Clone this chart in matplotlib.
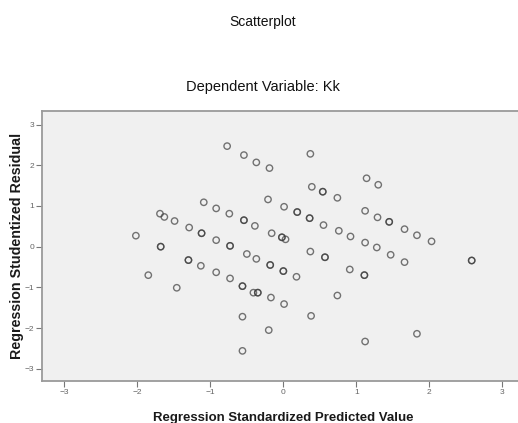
import matplotlib.pyplot as plt
import numpy as np

plt.rcParams['font.family'] = ['Liberation Sans', 'DejaVu Sans']

# standardized predicted value (x) and studentized residual (y)
# dark circles in the reference are overlapping cases, so those are listed twice
pred = [-0.77, -0.54, -0.37, -0.19, 0.37, 1.14, 1.30,
        -1.09, -0.92, -0.74, -0.54, -0.54, -0.39,
        -0.21, 0.01, 0.19, 0.19, 0.36, 0.36, 0.55, 0.76, 0.92, 1.12, 1.28,
        0.39, 0.54, 0.54, 0.74,
        1.12, 1.29, 1.45, 1.45, 1.66, 1.83, 2.03,
        -2.02, -1.69, -1.63, -1.49, -1.29, -1.12, -1.12, -0.92, -0.73, -0.73,
        -0.16, -0.02, -0.02, 0.03,
        -1.68, -1.68,
        0.37, 0.57, 0.57, 0.91, 1.11, 1.11,
        -0.18, -0.18, 0.00, 0.00, 0.18,
        2.58, 2.58, 1.66, 1.47,
        -1.30, -1.30, -1.13, -0.92, -0.73,
        -1.85,
        -0.50, -0.37,
        -1.46,
        -0.56, -0.56, -0.41, -0.35, -0.35, -0.17, 0.01,
        -0.56, -0.20, -0.56,
        0.74, 0.38, 1.12, 1.83]
resid = [2.47, 2.25, 2.07, 1.93, 2.28, 1.68, 1.52,
         1.09, 0.94, 0.81, 0.65, 0.65, 0.51,
         1.16, 0.98, 0.85, 0.85, 0.70, 0.70, 0.53, 0.39, 0.25, 0.10, -0.02,
         1.47, 1.35, 1.35, 1.20,
         0.88, 0.72, 0.61, 0.61, 0.43, 0.28, 0.13,
         0.27, 0.81, 0.73, 0.63, 0.47, 0.33, 0.33, 0.16, 0.02, 0.02,
         0.33, 0.23, 0.23, 0.18,
         0.00, 0.00,
         -0.12, -0.26, -0.26, -0.56, -0.70, -0.70,
         -0.45, -0.45, -0.60, -0.60, -0.74,
         -0.34, -0.34, -0.38, -0.20,
         -0.33, -0.33, -0.47, -0.63, -0.78,
         -0.70,
         -0.18, -0.30,
         -1.01,
         -0.97, -0.97, -1.13, -1.13, -1.13, -1.25, -1.41,
         -1.72, -2.05, -2.56,
         -1.20, -1.70, -2.33, -2.14]

ticks = [-3, -2, -1, 0, 1, 2, 3]

fig = plt.figure(figsize=(5.18, 4.23), dpi=100)
ax = fig.add_axes([0.0805, 0.0993, 0.933, 0.639])
ax.set_facecolor('#f0f0f0')

ax.scatter(pred, resid, s=21, facecolors='none', edgecolors='#3c3c3c',
           linewidths=1.0, alpha=0.7)

ax.set_xlim(-3.31, 3.31)
ax.set_ylim(-3.30, 3.34)
ax.set_xticks(ticks)
ax.set_yticks(ticks)
ax.tick_params(axis='both', length=4, width=0.8, color='#777777',
               labelsize=6, labelcolor='#666666', pad=1.5)

for s in ax.spines.values():
    s.set_color('#9a9a9a')
    s.set_linewidth(1.3)

ax.set_xlabel('Regression Standardized Predicted Value', fontsize=9.5,
              fontweight='bold', color='#1a1a1a', labelpad=12)
ax.set_ylabel('Regression Studentized Residual', fontsize=10.3,
              fontweight='bold', color='#1a1a1a', labelpad=0)

# titles sit a bit left of the axes centre in the reference
fig.text(263 / 518, 0.949, 'Scatterplot', ha='center', va='center',
         fontsize=10, color='#111111')
fig.text(263 / 518, 0.794, 'Dependent Variable: Kk', ha='center', va='center',
         fontsize=10.5, color='#111111')

fig.savefig('out.png', dpi=100)
